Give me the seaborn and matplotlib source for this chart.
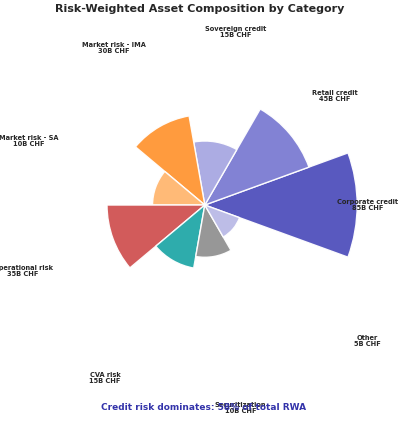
import numpy as np
import matplotlib
matplotlib.use("Agg")
import matplotlib.pyplot as plt
import seaborn as sns

categories = ["Corporate credit", "Retail credit", "Sovereign credit", "Market risk - IMA",
              "Market risk - SA", "Operational risk", "CVA risk", "Securitization", "Other"]
values = [85, 45, 15, 30, 10, 35, 15, 10, 5]
colors = ["#5050BC", "#7B7BD2", "#A8A8E2", "#FF9633", "#FFB770", "#D05252", "#22A8A8", "#929292", "#BABAE6"]

sns.set_style("white")
fig = plt.figure(figsize=(4, 4.21), dpi=100)
ax = fig.add_axes([0.112, 0.133, 0.8, 0.76], projection="polar")

n = len(categories)
theta = np.deg2rad(np.arange(n) * 360 / n)
width = np.deg2rad(360 / n)
radii = np.sqrt(values)
ax.bar(theta, radii, width=width, color=colors, edgecolor="white", linewidth=1, alpha=0.95)

rmax = radii.max()
ax.set_ylim(0, rmax * 1.05)
ax.set_axis_off()

for i, (t, c, v) in enumerate(zip(theta, categories, values)):
    r = rmax * (1.07 + 0.04 * i)
    ax.text(t, r, f"{c}\n{v}B CHF", ha="center", va="center", fontsize=4.8,
            fontweight="bold", clip_on=False, linespacing=1.0)

fig.suptitle("Risk-Weighted Asset Composition by Category", fontsize=8, fontweight="bold", y=0.99)
fig.text(0.51, 0.025, "Credit risk dominates: 58% of total RWA", ha="center", fontsize=6.5,
         fontweight="bold", color="#3333AA")
fig.savefig("out.png", dpi=100)
